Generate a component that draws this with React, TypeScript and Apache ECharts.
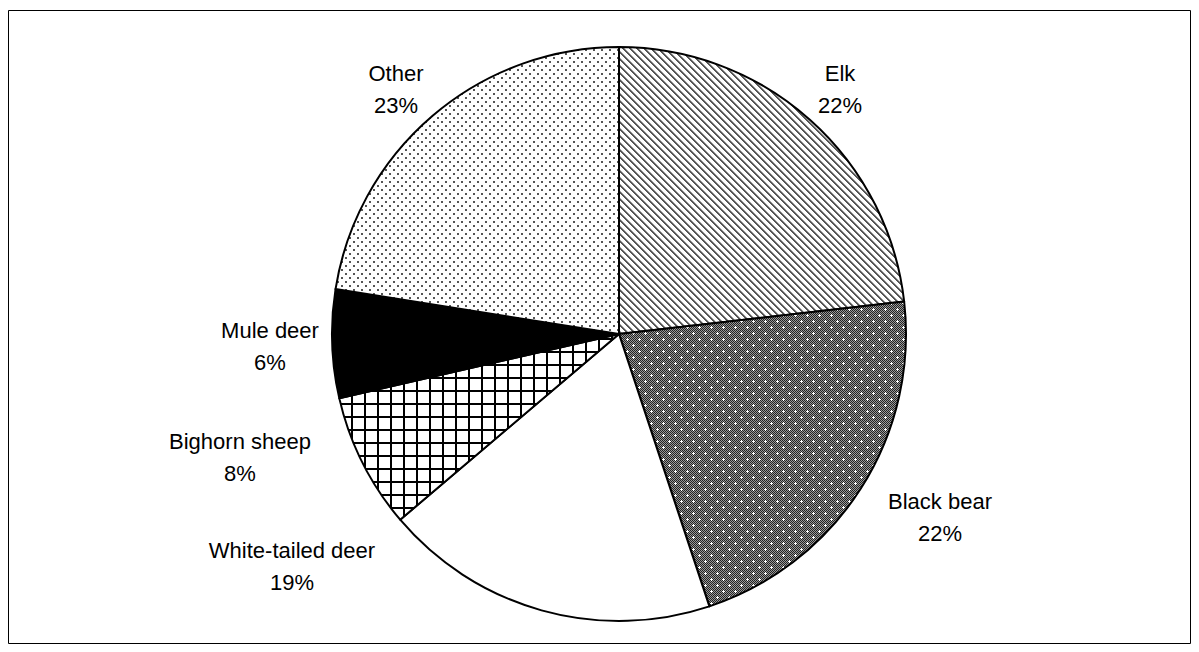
import React, { useEffect, useRef } from 'react';
import * as echarts from 'echarts';

const categories = ['Elk', 'Black bear', 'White-tailed deer', 'Bighorn sheep', 'Mule deer', 'Other'];
const shares = [23.2, 21.7, 18.9, 7.6, 6.1, 22.5];
const percentLabels = ['22%', '22%', '19%', '8%', '6%', '23%'];

// label block centres (layout only)
const labelCenters: number[][] = [
  [840, 89],
  [940, 517],
  [292, 566],
  [240, 457],
  [270, 346],
  [396, 89],
];

function makeTile(size: number, draw: (ctx: CanvasRenderingContext2D) => void) {
  const c = document.createElement('canvas');
  c.width = size;
  c.height = size;
  const ctx = c.getContext('2d')!;
  draw(ctx);
  return { image: c.toDataURL(), repeat: 'repeat', imageWidth: size, imageHeight: size } as any;
}

function buildPatterns() {
  const elk = makeTile(7, (ctx) => {
    ctx.fillStyle = '#fff';
    ctx.fillRect(0, 0, 7, 7);
    for (let y = 0; y < 7; y++) {
      for (let x = 0; x < 7; x++) {
        const m = (((x - y) % 7) + 7) % 7;
        if (m === 0 || m === 1) {
          ctx.fillStyle = '#555';
          ctx.fillRect(x, y, 1, 1);
        } else if (m === 2) {
          ctx.fillStyle = '#aaa';
          ctx.fillRect(x, y, 1, 1);
        }
      }
    }
  });
  const bear = makeTile(12, (ctx) => {
    for (let y = 0; y < 12; y++) {
      for (let x = 0; x < 12; x++) {
        ctx.fillStyle = (x + y) % 2 === 0 ? '#222' : '#999';
        ctx.fillRect(x, y, 1, 1);
      }
    }
    ctx.fillStyle = '#fff';
    const dots = [[3, 3], [9, 9]];
    dots.forEach(([cx, cy]) => {
      ctx.fillRect(cx - 1, cy, 3, 1);
      ctx.fillRect(cx, cy - 1, 1, 3);
    });
  });
  const grid = makeTile(13, (ctx) => {
    ctx.fillStyle = '#fff';
    ctx.fillRect(0, 0, 13, 13);
    ctx.fillStyle = '#000';
    ctx.fillRect(0, 0, 2, 13);
    ctx.fillRect(0, 0, 13, 2);
  });
  const dotted = makeTile(8, (ctx) => {
    ctx.fillStyle = '#fff';
    ctx.fillRect(0, 0, 8, 8);
    ctx.fillStyle = '#555';
    ctx.fillRect(1, 1, 2, 2);
    ctx.fillRect(5, 5, 2, 2);
  });
  return [elk, bear, '#ffffff', grid, '#000000', dotted];
}

export default function App() {
  const ref = useRef<HTMLDivElement>(null);
  useEffect(() => {
    if (!ref.current) return;
    const chart = echarts.init(ref.current, null, { renderer: 'svg' });
    const fills = buildPatterns();
    const data = categories.map((name, i) => ({
      name,
      value: shares[i],
      itemStyle: { color: fills[i] },
    }));
    chart.setOption({
      animation: false,
      backgroundColor: '#ffffff',
      graphic: [
        {
          type: 'rect',
          shape: { x: 8.5, y: 10.5, width: 1182, height: 633 },
          style: { fill: 'none', stroke: '#000', lineWidth: 1 },
          silent: true,
        },
      ],
      series: [
        {
          type: 'pie',
          center: [619, 334],
          radius: 287,
          startAngle: 90,
          clockwise: true,
          avoidLabelOverlap: false,
          itemStyle: { borderColor: '#000', borderWidth: 2 },
          emphasis: { disabled: true },
          label: {
            show: true,
            position: 'outside',
            color: '#000',
            fontFamily: 'Liberation Sans, Arial, sans-serif',
            fontSize: 22,
            lineHeight: 32,
            align: 'center',
            formatter: (p: any) => `${p.name}\n${percentLabels[p.dataIndex]}`,
          },
          labelLine: { show: false },
          labelLayout: (p: any) => ({
            x: labelCenters[p.dataIndex][0],
            y: labelCenters[p.dataIndex][1],
            align: 'center',
            verticalAlign: 'middle',
          }),
          data,
        },
      ],
    });
    return () => chart.dispose();
  }, []);
  return (
    <div
      ref={ref}
      style={{ position: 'absolute', left: 0, top: 0, width: 1199, height: 652 }}
    />
  );
}
